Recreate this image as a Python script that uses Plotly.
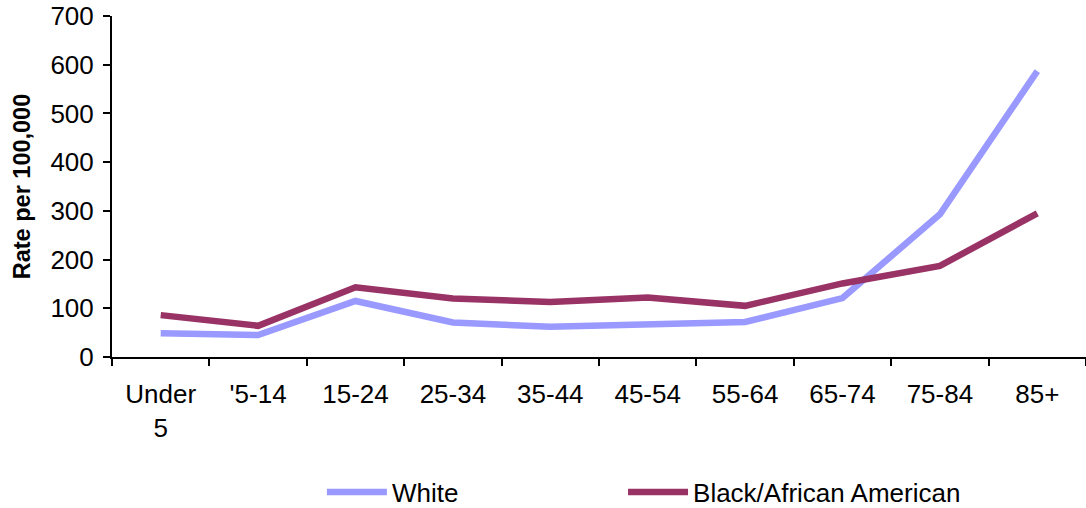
import plotly.graph_objects as go

categories = ["Under<br>5", "'5-14", "15-24", "25-34", "35-44", "45-54", "55-64", "65-74", "75-84", "85+"]
white = [49, 45, 115, 71, 62, 67, 72, 121, 293, 587]
black = [86, 64, 143, 120, 113, 122, 105, 151, 187, 295]
y_ticks = [0, 100, 200, 300, 400, 500, 600, 700]

fig = go.Figure()
fig.add_trace(go.Scatter(x=categories, y=white, mode="lines", name="White",
                         line=dict(color="#9999FF", width=6.5), legend="legend"))
fig.add_trace(go.Scatter(x=categories, y=black, mode="lines", name="Black/African American",
                         line=dict(color="#993366", width=6.5), legend="legend2"))

font_family = "Liberation Sans, Arial, sans-serif"
legend_common = dict(orientation="h", xref="container", yref="container",
                     xanchor="left", yanchor="middle", y=0.0315,
                     font=dict(size=26), itemwidth=60, bgcolor="rgba(0,0,0,0)")
fig.update_layout(
    width=1086, height=508,
    margin=dict(l=112, r=0, t=16, b=151),
    paper_bgcolor="white", plot_bgcolor="white",
    font=dict(family=font_family, color="black", size=26),
    xaxis=dict(type="category", tickson="boundaries", ticks="outside", ticklen=7,
               tickwidth=2, tickcolor="black", showline=True, linecolor="black",
               linewidth=2, showgrid=False, tickfont=dict(size=26),
               range=[-0.5, 9.5], automargin=False, ticklabelstandoff=13,
               ticklabeloverflow="allow"),
    yaxis=dict(range=[0, 700], tickvals=y_ticks, ticks="outside", ticklen=7,
               tickwidth=2, tickcolor="black", showline=True, linecolor="black",
               linewidth=2, showgrid=False, zeroline=False, tickfont=dict(size=26),
               automargin=False, ticklabelstandoff=4, ticklabeloverflow="allow",
               title=dict(text="<b>Rate per 100,000</b>", font=dict(size=23.5), standoff=13)),
    legend=dict(x=0.2964, **legend_common),
    legend2=dict(x=0.5737, **legend_common),
    showlegend=True,
)

fig.write_html("out.html", config={"displayModeBar": False},
               post_script="document.body.style.margin='0';document.body.style.overflow='hidden';")
